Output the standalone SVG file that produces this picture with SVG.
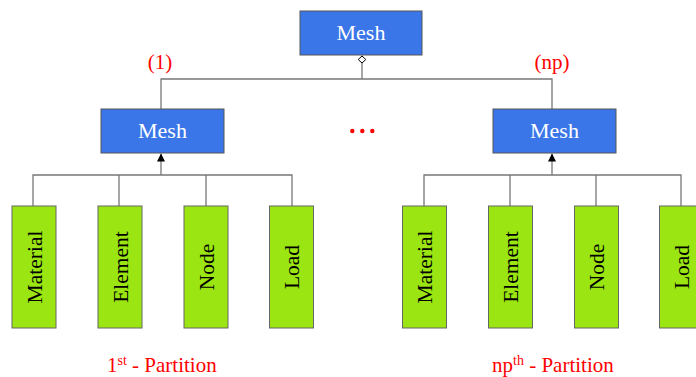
<svg xmlns="http://www.w3.org/2000/svg" width="696" height="377" viewBox="0 0 696 377">
<style>
.mesh{fill:#3a76e8;stroke:#555;stroke-width:1}
.leaf{fill:#9ae512;stroke:#666;stroke-width:1}
text{font-family:'Liberation Serif','Times New Roman','DejaVu Serif',serif}
.mt{font-size:22px;fill:#fff;text-anchor:middle}
.lt{font-size:21.5px;fill:#000;text-anchor:middle}
.red{font-size:21px;fill:#f00}
.c{fill:none;stroke:#777;stroke-width:1.3}
</style>
<defs>
<marker id="arr" viewBox="0 0 10 10" refX="10" refY="5" markerWidth="8" markerHeight="9" markerUnits="userSpaceOnUse" orient="auto"><path d="M0,0 L10,5 L0,10 z" fill="#000"/></marker>
<marker id="dia" viewBox="0 0 8 9" refX="8" refY="4.5" markerWidth="8" markerHeight="9" markerUnits="userSpaceOnUse" orient="auto"><path d="M0.5,4.5 L4,0.7 L7.5,4.5 L4,8.3 z" fill="#fff" stroke="#000" stroke-width="1"/></marker>
</defs>
<g id="connectors">
<path class="c" d="M362,79 V55.5" marker-end="url(#dia)"/>
<path class="c" d="M161,109 V79 H552 V109"/>
<path class="c" d="M161,175 V153.5" marker-end="url(#arr)"/>
<path class="c" d="M33,206 V175 H292 V206 M119,175 V206 M206,175 V206"/>
<path class="c" d="M552,175 V153.5" marker-end="url(#arr)"/>
<path class="c" d="M424,206 V175 H681 V206 M510,175 V206 M596,175 V206"/>
</g>
<g id="mesh-top"><rect class="mesh" x="300" y="11" width="122" height="44"/><text class="mt" x="361" y="40">Mesh</text></g>
<g id="mesh-1"><rect class="mesh" x="101" y="109" width="123" height="44"/><text class="mt" x="162.5" y="138">Mesh</text></g>
<g id="mesh-np"><rect class="mesh" x="493" y="109" width="123" height="44"/><text class="mt" x="554.5" y="138">Mesh</text></g>
<g id="material-1"><rect class="leaf" x="12" y="206" width="44" height="122"/><text class="lt" transform="translate(41.5,267) rotate(-90)">Material</text></g>
<g id="element-1"><rect class="leaf" x="98" y="206" width="44" height="122"/><text class="lt" transform="translate(127.5,267) rotate(-90)">Element</text></g>
<g id="node-1"><rect class="leaf" x="184" y="206" width="44" height="122"/><text class="lt" transform="translate(213.5,267) rotate(-90)">Node</text></g>
<g id="load-1"><rect class="leaf" x="269.5" y="206" width="44" height="122"/><text class="lt" transform="translate(299,267) rotate(-90)">Load</text></g>
<g id="material-np"><rect class="leaf" x="402.5" y="206" width="44" height="122"/><text class="lt" transform="translate(432,267) rotate(-90)">Material</text></g>
<g id="element-np"><rect class="leaf" x="488.5" y="206" width="44" height="122"/><text class="lt" transform="translate(518,267) rotate(-90)">Element</text></g>
<g id="node-np"><rect class="leaf" x="574.5" y="206" width="44" height="122"/><text class="lt" transform="translate(604,267) rotate(-90)">Node</text></g>
<g id="load-np"><rect class="leaf" x="659.5" y="206" width="44" height="122"/><text class="lt" transform="translate(689,267) rotate(-90)">Load</text></g>
<g id="labels">
<text class="red" x="160" y="69" text-anchor="middle">(1)</text>
<text class="red" x="552" y="69" text-anchor="middle">(np)</text>
<circle cx="352.3" cy="131" r="2.2" fill="#f00"/><circle cx="362.3" cy="131" r="2.2" fill="#f00"/><circle cx="372.3" cy="131" r="2.2" fill="#f00"/>
<text class="red" x="107" y="371.5">1<tspan font-size="14" dy="-7">st</tspan><tspan dy="7"> - Partition</tspan></text>
<text class="red" x="492" y="371.5">np<tspan font-size="14" dy="-7">th</tspan><tspan dy="7"> - Partition</tspan></text>
</g>
</svg>
